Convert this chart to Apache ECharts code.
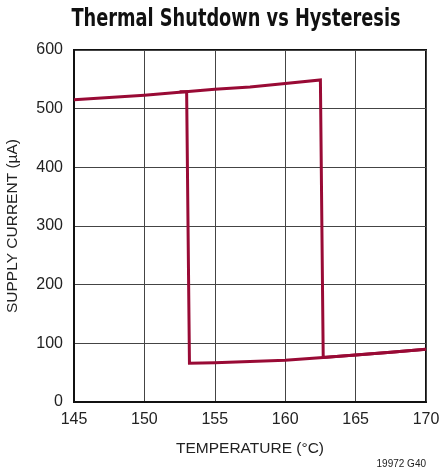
<!DOCTYPE html>
<html>
<head>
<meta charset="utf-8">
<script src="https://cdn.jsdelivr.net/npm/echarts@6/dist/echarts.min.js"></script>
<style>
  html, body { margin: 0; padding: 0; background: #fff; }
  #chart { width: 439px; height: 471px; }
</style>
</head>
<body>
<div id="chart"></div>
<script>
// Supply current while heating (rising temperature) and cooling back down
const heatingTemp    = [145, 147.5, 150, 152.5, 155, 157.5, 160, 162.5, 162.7, 165, 167.5, 170];
const heatingCurrent = [515, 519, 523, 528, 533, 537, 543, 549, 76, 80, 85, 90];
const coolingTemp    = [170, 167.5, 165, 162.7, 160, 157.5, 155, 153.2, 153.0, 152.5];
const coolingCurrent = [90, 85, 80, 76, 71, 69, 67, 66, 529, 529];

const xTicks = { min: 145, max: 170, step: 5 };
const yTicks = { min: 0, max: 600, step: 100 };

const chartTitle = 'Thermal Shutdown vs Hysteresis';
const chartNote = '19972 G40';

const toPairs = (xs, ys) => xs.map((x, i) => [x, ys[i]]);

const lineColor = '#990a35';
const titleFont = '"DejaVu Sans Condensed", "Liberation Sans", sans-serif';
const font = '"Liberation Sans", Arial, sans-serif';

const chart = echarts.init(document.getElementById('chart'));
chart.setOption({
  animation: false,
  backgroundColor: '#fff',
  graphic: [
    {
      // condensed bold heading, squeezed horizontally around its centre
      type: 'text',
      x: 236, y: 19,
      scaleX: 0.79,
      style: {
        text: chartTitle,
        font: 'bold 25px ' + titleFont,
        fill: '#111',
        textAlign: 'center',
        textVerticalAlign: 'middle'
      }
    },
    {
      type: 'text',
      x: 426, y: 464,
      style: {
        text: chartNote,
        font: '10px ' + font,
        fill: '#222',
        textAlign: 'right',
        textVerticalAlign: 'middle'
      }
    }
  ],
  grid: {
    left: 74, right: 13, top: 50, bottom: 69,
    outerBoundsMode: 'none',
    containLabel: false,
    show: true, borderColor: '#111', borderWidth: 2
  },
  xAxis: {
    type: 'value',
    min: xTicks.min, max: xTicks.max, interval: xTicks.step,
    name: 'TEMPERATURE (°C)',
    nameLocation: 'middle', nameGap: 39,
    nameTextStyle: { fontFamily: font, fontSize: 15.5, color: '#222' },
    axisLine: { show: true, lineStyle: { color: '#111', width: 2 } },
    axisTick: { show: false },
    axisLabel: { fontFamily: font, fontSize: 16, color: '#222', margin: 10 },
    splitLine: { show: true, lineStyle: { color: '#444', width: 1 } }
  },
  yAxis: {
    type: 'value',
    min: yTicks.min, max: yTicks.max, interval: yTicks.step,
    name: 'SUPPLY CURRENT (µA)',
    nameLocation: 'middle', nameGap: 53,
    nameTextStyle: { fontFamily: font, fontSize: 15.5, color: '#222' },
    axisLine: { show: true, lineStyle: { color: '#111', width: 2 } },
    axisTick: { show: false },
    axisLabel: { fontFamily: font, fontSize: 16, color: '#222', margin: 11 },
    splitLine: { show: true, lineStyle: { color: '#444', width: 1 } }
  },
  series: [
    {
      name: 'Heating', type: 'line',
      data: toPairs(heatingTemp, heatingCurrent),
      showSymbol: false, smooth: false,
      lineStyle: { color: lineColor, width: 3, join: 'miter' }
    },
    {
      name: 'Cooling', type: 'line',
      data: toPairs(coolingTemp, coolingCurrent),
      showSymbol: false, smooth: false,
      lineStyle: { color: lineColor, width: 3, join: 'miter' }
    }
  ]
});
</script>
</body>
</html>
